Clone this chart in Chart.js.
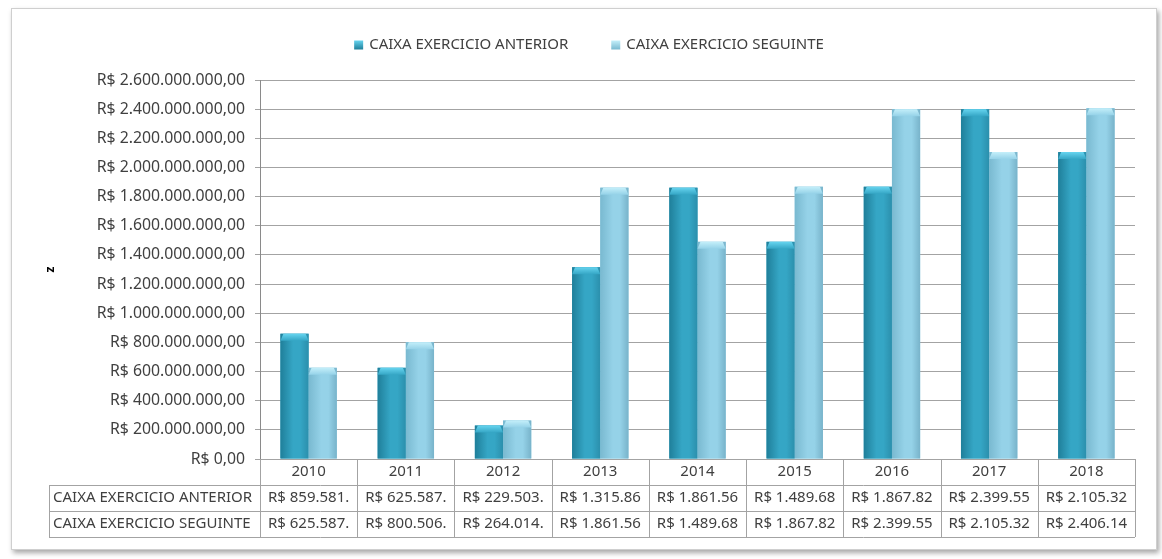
<!DOCTYPE html>
<html>
<head>
<meta charset="utf-8">
<script src="https://cdn.jsdelivr.net/npm/chart.js@4.4.0/dist/chart.umd.min.js"></script>
<style>
  html, body { margin: 0; padding: 0; background: #fff; }
  #moldura {
    position: absolute; left: 11px; top: 8px;
    width: 1144px; height: 540px;
    border: 1px solid #cfcfcf;
    box-shadow: 2px 3px 5px rgba(0, 0, 0, 0.35);
    background: #fff;
  }
  canvas { display: block; }
</style>
</head>
<body>
<div id="moldura"><canvas id="grafico" width="1144" height="540"></canvas></div>
<script>
const anos = ['2010', '2011', '2012', '2013', '2014', '2015', '2016', '2017', '2018'];
const caixaAnterior = [859581000, 625587000, 229503000, 1315860000, 1861560000, 1489680000, 1867820000, 2399550000, 2105320000];
const caixaSeguinte = [625587000, 800506000, 264014000, 1861560000, 1489680000, 1867820000, 2399550000, 2105320000, 2406140000];
const nomesSeries = ['CAIXA EXERCICIO ANTERIOR', 'CAIXA EXERCICIO SEGUINTE'];
const eixoMax = 2600000000;
const eixoPasso = 200000000;

const fonte = '"Noto Sans", sans-serif';
const tamFonte = 15;
const tamFonteEixo = 15.8;
const corTexto = '#404040';
const corLinha = '#a3a3a3';

// cores de cada série: [escuro, meio, claro, tampa]
const coresSerie = [
    ['#1f7f9a', '#35a6c5', '#2b8fac', '#66d4ef'],
    ['#79b9d0', '#95d2e8', '#78b3ca', '#c4effa']
];

function formatarReal(v) {
    const partes = Number(v).toFixed(2).split('.');
    const inteiro = partes[0].replace(/\B(?=(\d{3})+(?!\d))/g, '.');
    return 'R$ ' + inteiro + ',' + partes[1];
}

// corta o texto como o Excel faz quando não cabe na célula
function cortar(ctx, txt, max) {
    let s = txt;
    while (s.length > 0 && ctx.measureText(s).width > max) s = s.slice(0, -1);
    return s;
}

// --- relevo das barras (degradê + tampa chanfrada) ---
const relevoBarras = {
    id: 'relevoBarras',
    afterDatasetsDraw(chart) {
        const ctx = chart.ctx;
        chart.data.datasets.forEach((ds, di) => {
            const meta = chart.getDatasetMeta(di);
            const c = coresSerie[di];
            meta.data.forEach(bar => {
                const { x, y, base, width } = bar.getProps(['x', 'y', 'base', 'width'], true);
                const esq = x - width / 2, dir = x + width / 2;
                ctx.save();
                const g = ctx.createLinearGradient(esq, 0, dir, 0);
                g.addColorStop(0, c[0]);
                g.addColorStop(0.45, c[1]);
                g.addColorStop(0.7, c[1]);
                g.addColorStop(1, c[2]);
                ctx.fillStyle = g;
                ctx.fillRect(esq, y, width, base - y);

                const alt = Math.min(7, base - y);
                const gt = ctx.createLinearGradient(0, y, 0, y + alt);
                gt.addColorStop(0, c[3]);
                gt.addColorStop(1, c[1]);
                ctx.fillStyle = gt;
                ctx.beginPath();
                ctx.moveTo(esq + 3, y);
                ctx.lineTo(dir - 3, y);
                ctx.lineTo(dir, y + alt);
                ctx.lineTo(esq, y + alt);
                ctx.closePath();
                ctx.fill();
                ctx.restore();
            });
        });
    }
};

// --- legenda no topo ---
const legendaTopo = {
    id: 'legendaTopo',
    afterDraw(chart) {
        const ctx = chart.ctx;
        const caixa = 9, vao = 6, espaco = 43;
        ctx.save();
        ctx.font = tamFonte + 'px ' + fonte;
        const largs = nomesSeries.map(n => ctx.measureText(n).width);
        const total = largs.reduce((a, b) => a + b, 0) + nomesSeries.length * (caixa + vao) + espaco;
        const pad = chart.options.layout.padding;
        const centro = (pad.left + chart.width - pad.right) / 2;
        const yc = 36;
        let cx = centro - total / 2;
        nomesSeries.forEach((nome, i) => {
            const g = ctx.createLinearGradient(0, yc - caixa / 2, 0, yc + caixa / 2);
            g.addColorStop(0, coresSerie[i][3]);
            g.addColorStop(1, coresSerie[i][0]);
            ctx.fillStyle = g;
            ctx.fillRect(cx, yc - caixa / 2, caixa, caixa);
            cx += caixa + vao;
            ctx.fillStyle = corTexto;
            ctx.textBaseline = 'middle';
            ctx.textAlign = 'left';
            ctx.fillText(nome, cx, yc);
            cx += largs[i] + espaco;
        });
        ctx.restore();
    }
};

// --- tabela de dados embaixo do eixo x ---
const tabelaDados = {
    id: 'tabelaDados',
    afterDraw(chart) {
        const { ctx, chartArea, scales: { x } } = chart;
        const n = anos.length;
        const larg = (x.right - x.left) / n;
        const topo = x.bottom;
        const altLinha = 26;
        const esq = chartArea.left - 211;
        const fundo = topo + altLinha * nomesSeries.length;
        const px = v => Math.round(v) + 0.5;

        ctx.save();
        ctx.strokeStyle = corLinha;
        ctx.lineWidth = 1;
        ctx.beginPath();
        // verticais das colunas (incluindo a linha dos anos)
        for (let i = 0; i <= n; i++) {
            const xx = px(x.left + i * larg);
            ctx.moveTo(xx, chartArea.bottom);
            ctx.lineTo(xx, fundo);
        }
        ctx.moveTo(px(esq), topo);
        ctx.lineTo(px(esq), fundo);
        // horizontais
        for (let r = 0; r <= nomesSeries.length; r++) {
            const yy = px(topo + r * altLinha);
            ctx.moveTo(esq, yy);
            ctx.lineTo(x.right, yy);
        }
        ctx.stroke();

        ctx.font = tamFonte + 'px ' + fonte;
        ctx.fillStyle = corTexto;
        ctx.textBaseline = 'middle';
        const valores = [caixaAnterior, caixaSeguinte];
        nomesSeries.forEach((nome, r) => {
            const yc = topo + r * altLinha + altLinha / 2;
            ctx.textAlign = 'left';
            ctx.fillText(nome, esq + 4, yc);
            ctx.textAlign = 'center';
            valores[r].forEach((v, i) => {
                const txt = cortar(ctx, formatarReal(v), larg - 12);
                ctx.fillText(txt, x.getPixelForTick(i), yc);
            });
        });
        ctx.restore();
    }
};

document.addEventListener('DOMContentLoaded', () => {
    Chart.defaults.font.family = fonte;
    Chart.defaults.font.size = tamFonte;
    Chart.defaults.color = corTexto;

    const ctx = document.getElementById('grafico').getContext('2d');
    new Chart(ctx, {
        type: 'bar',
        data: {
            labels: anos,
            datasets: [
                { label: nomesSeries[0], data: caixaAnterior, backgroundColor: coresSerie[0][1] },
                { label: nomesSeries[1], data: caixaSeguinte, backgroundColor: coresSerie[1][1] }
            ]
        },
        options: {
            responsive: false,
            animation: false,
            devicePixelRatio: 1,
            layout: { padding: { top: 71, left: 31, right: 21, bottom: 64 } },
            datasets: { bar: { categoryPercentage: 0.58, barPercentage: 1.0, borderWidth: 0 } },
            plugins: {
                legend: { display: false },
                tooltip: { enabled: false }
            },
            scales: {
                x: {
                    grid: { display: false, drawTicks: false },
                    border: { display: false },
                    ticks: { padding: 4, maxRotation: 0, color: corTexto },
                    afterFit: s => { s.height = 26; }
                },
                y: {
                    min: 0,
                    max: eixoMax,
                    ticks: { stepSize: eixoPasso, padding: 10, color: corTexto, font: { size: tamFonteEixo }, callback: v => formatarReal(v) },
                    grid: { color: corLinha, tickLength: 5 },
                    border: { color: '#8a8a8a' },
                    title: { display: true, text: 'z', color: '#000', font: { size: 12, weight: 'bold' }, padding: 0 },
                    afterFit: s => { s.width = 217; }
                }
            }
        },
        plugins: [relevoBarras, legendaTopo, tabelaDados]
    });
});
</script>
</body>
</html>
